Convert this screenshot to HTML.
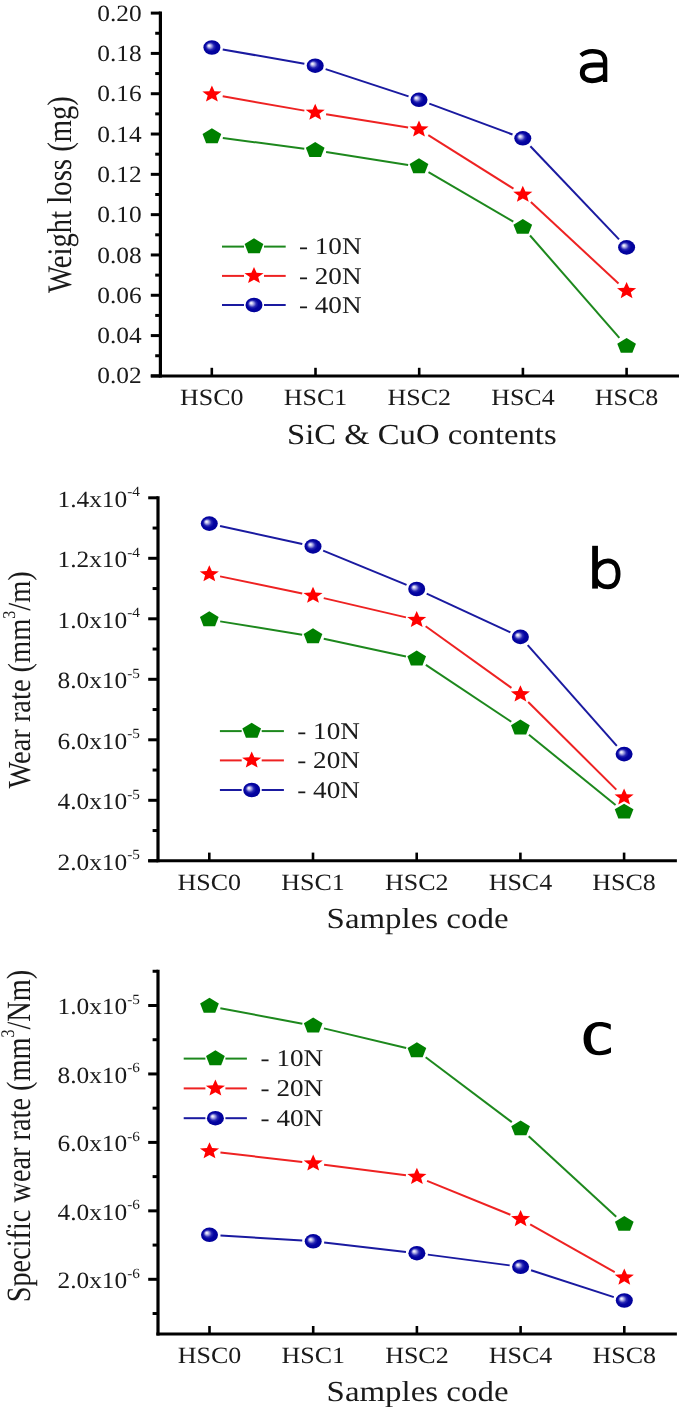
<!DOCTYPE html>
<html><head><meta charset="utf-8"><style>
html,body{margin:0;padding:0;background:#fff;}
svg{display:block;filter:blur(0.35px);}
text{fill:#1a1a1a;text-rendering:geometricPrecision;}
</style></head><body>
<svg width="685" height="1407" viewBox="0 0 685 1407">
<defs>
<radialGradient id="sph" cx="0.5" cy="0.5" r="0.56" fx="0.32" fy="0.36">
<stop offset="0" stop-color="#f6f6ff"/>
<stop offset="0.1" stop-color="#e0e0f6"/>
<stop offset="0.25" stop-color="#9090dc"/>
<stop offset="0.42" stop-color="#2828b4"/>
<stop offset="0.6" stop-color="#0404a2"/>
<stop offset="1" stop-color="#000096"/>
</radialGradient>
</defs>
<rect width="685" height="1407" fill="#fff"/>
<line x1="160.4" y1="11.6" x2="160.4" y2="377.5" stroke="#000" stroke-width="3.2"/>
<line x1="150.8" y1="376.0" x2="679" y2="376.0" stroke="#000" stroke-width="3"/>
<line x1="150.8" y1="13.10" x2="160.4" y2="13.10" stroke="#000" stroke-width="3"/>
<line x1="150.8" y1="53.41" x2="160.4" y2="53.41" stroke="#000" stroke-width="3"/>
<line x1="150.8" y1="93.72" x2="160.4" y2="93.72" stroke="#000" stroke-width="3"/>
<line x1="150.8" y1="134.03" x2="160.4" y2="134.03" stroke="#000" stroke-width="3"/>
<line x1="150.8" y1="174.34" x2="160.4" y2="174.34" stroke="#000" stroke-width="3"/>
<line x1="150.8" y1="214.65" x2="160.4" y2="214.65" stroke="#000" stroke-width="3"/>
<line x1="150.8" y1="254.96" x2="160.4" y2="254.96" stroke="#000" stroke-width="3"/>
<line x1="150.8" y1="295.27" x2="160.4" y2="295.27" stroke="#000" stroke-width="3"/>
<line x1="150.8" y1="335.58" x2="160.4" y2="335.58" stroke="#000" stroke-width="3"/>
<line x1="150.8" y1="375.89" x2="160.4" y2="375.89" stroke="#000" stroke-width="3"/>
<line x1="155.2" y1="33.26" x2="160.4" y2="33.26" stroke="#000" stroke-width="3"/>
<line x1="155.2" y1="73.56" x2="160.4" y2="73.56" stroke="#000" stroke-width="3"/>
<line x1="155.2" y1="113.88" x2="160.4" y2="113.88" stroke="#000" stroke-width="3"/>
<line x1="155.2" y1="154.19" x2="160.4" y2="154.19" stroke="#000" stroke-width="3"/>
<line x1="155.2" y1="194.50" x2="160.4" y2="194.50" stroke="#000" stroke-width="3"/>
<line x1="155.2" y1="234.81" x2="160.4" y2="234.81" stroke="#000" stroke-width="3"/>
<line x1="155.2" y1="275.12" x2="160.4" y2="275.12" stroke="#000" stroke-width="3"/>
<line x1="155.2" y1="315.43" x2="160.4" y2="315.43" stroke="#000" stroke-width="3"/>
<line x1="155.2" y1="355.74" x2="160.4" y2="355.74" stroke="#000" stroke-width="3"/>
<line x1="211.80" y1="367.8" x2="211.80" y2="376.0" stroke="#000" stroke-width="2.6"/>
<line x1="315.50" y1="367.8" x2="315.50" y2="376.0" stroke="#000" stroke-width="2.6"/>
<line x1="419.20" y1="367.8" x2="419.20" y2="376.0" stroke="#000" stroke-width="2.6"/>
<line x1="522.90" y1="367.8" x2="522.90" y2="376.0" stroke="#000" stroke-width="2.6"/>
<line x1="626.60" y1="367.8" x2="626.60" y2="376.0" stroke="#000" stroke-width="2.6"/>
<text transform="translate(141.70,20.70) scale(1.09,1)" font-family="Liberation Serif" font-size="23.3" text-anchor="end" >0.20</text>
<text transform="translate(141.70,61.01) scale(1.09,1)" font-family="Liberation Serif" font-size="23.3" text-anchor="end" >0.18</text>
<text transform="translate(141.70,101.32) scale(1.09,1)" font-family="Liberation Serif" font-size="23.3" text-anchor="end" >0.16</text>
<text transform="translate(141.70,141.63) scale(1.09,1)" font-family="Liberation Serif" font-size="23.3" text-anchor="end" >0.14</text>
<text transform="translate(141.70,181.94) scale(1.09,1)" font-family="Liberation Serif" font-size="23.3" text-anchor="end" >0.12</text>
<text transform="translate(141.70,222.25) scale(1.09,1)" font-family="Liberation Serif" font-size="23.3" text-anchor="end" >0.10</text>
<text transform="translate(141.70,262.56) scale(1.09,1)" font-family="Liberation Serif" font-size="23.3" text-anchor="end" >0.08</text>
<text transform="translate(141.70,302.87) scale(1.09,1)" font-family="Liberation Serif" font-size="23.3" text-anchor="end" >0.06</text>
<text transform="translate(141.70,343.18) scale(1.09,1)" font-family="Liberation Serif" font-size="23.3" text-anchor="end" >0.04</text>
<text transform="translate(141.70,383.49) scale(1.09,1)" font-family="Liberation Serif" font-size="23.3" text-anchor="end" >0.02</text>
<text transform="translate(211.80,404.70) scale(1.115,1)" font-family="Liberation Serif" font-size="23.3" text-anchor="middle" >HSC0</text>
<text transform="translate(315.50,404.70) scale(1.115,1)" font-family="Liberation Serif" font-size="23.3" text-anchor="middle" >HSC1</text>
<text transform="translate(419.20,404.70) scale(1.115,1)" font-family="Liberation Serif" font-size="23.3" text-anchor="middle" >HSC2</text>
<text transform="translate(522.90,404.70) scale(1.115,1)" font-family="Liberation Serif" font-size="23.3" text-anchor="middle" >HSC4</text>
<text transform="translate(626.60,404.70) scale(1.115,1)" font-family="Liberation Serif" font-size="23.3" text-anchor="middle" >HSC8</text>
<text transform="translate(287.00,444.20) scale(1.127,1)" font-family="Liberation Serif" font-size="29.0" text-anchor="start" >SiC &amp; CuO contents</text>
<text transform="translate(71.40,293.00) scale(1.2,1) rotate(-90)" font-family="Liberation Serif" font-size="28.7" text-anchor="start">Weight loss (mg)</text>
<g fill="none" stroke="#000"><path d="M580.9,55.4 C584.5,52.2 588.5,51.2 592.5,51.2 C600.5,51.2 605.1,54.5 605.1,60.5 L605.1,82.1" stroke-width="4.4"/><path d="M605.1,65 L594,65 C586,65 582.3,68 582.3,72.8 C582.3,77.8 586,80.7 592,80.7 C597.5,80.7 602,78.5 605.1,75.5" stroke-width="5.0"/></g>
<line x1="222.73" y1="49.41" x2="304.37" y2="63.79" stroke="#1a1aa0" stroke-width="2.0"/>
<line x1="325.65" y1="69.13" x2="408.55" y2="96.37" stroke="#1a1aa0" stroke-width="2.0"/>
<line x1="429.31" y1="103.63" x2="512.49" y2="134.47" stroke="#1a1aa0" stroke-width="2.0"/>
<line x1="530.38" y1="146.27" x2="619.02" y2="239.43" stroke="#1a1aa0" stroke-width="2.0"/>
<line x1="222.73" y1="96.26" x2="304.37" y2="110.64" stroke="#ee2222" stroke-width="2.0"/>
<line x1="326.06" y1="114.31" x2="408.14" y2="127.59" stroke="#ee2222" stroke-width="2.0"/>
<line x1="428.31" y1="135.20" x2="513.49" y2="188.70" stroke="#ee2222" stroke-width="2.0"/>
<line x1="530.86" y1="202.04" x2="618.54" y2="283.46" stroke="#ee2222" stroke-width="2.0"/>
<line x1="222.80" y1="137.96" x2="304.30" y2="148.84" stroke="#1d881d" stroke-width="2.0"/>
<line x1="326.07" y1="152.01" x2="408.13" y2="164.89" stroke="#1d881d" stroke-width="2.0"/>
<line x1="428.50" y1="172.15" x2="513.30" y2="221.65" stroke="#1d881d" stroke-width="2.0"/>
<line x1="530.03" y1="235.49" x2="619.37" y2="337.91" stroke="#1d881d" stroke-width="2.0"/>
<ellipse cx="211.90" cy="47.50" rx="8.5" ry="7.3" fill="url(#sph)"/>
<ellipse cx="315.20" cy="65.70" rx="8.5" ry="7.3" fill="url(#sph)"/>
<ellipse cx="419.00" cy="99.80" rx="8.5" ry="7.3" fill="url(#sph)"/>
<ellipse cx="522.80" cy="138.30" rx="8.5" ry="7.3" fill="url(#sph)"/>
<ellipse cx="626.60" cy="247.40" rx="8.5" ry="7.3" fill="url(#sph)"/>
<polygon points="211.90,85.45 214.50,91.18 221.46,91.60 216.11,95.56 217.81,101.55 211.90,98.27 205.99,101.55 207.69,95.56 202.34,91.60 209.30,91.18" fill="#ff0000"/>
<polygon points="315.20,103.65 317.80,109.38 324.76,109.80 319.41,113.76 321.11,119.75 315.20,116.47 309.29,119.75 310.99,113.76 305.64,109.80 312.60,109.38" fill="#ff0000"/>
<polygon points="419.00,120.45 421.60,126.18 428.56,126.60 423.21,130.56 424.91,136.55 419.00,133.27 413.09,136.55 414.79,130.56 409.44,126.60 416.40,126.18" fill="#ff0000"/>
<polygon points="522.80,185.65 525.40,191.38 532.36,191.80 527.01,195.76 528.71,201.75 522.80,198.47 516.89,201.75 518.59,195.76 513.24,191.80 520.20,191.38" fill="#ff0000"/>
<polygon points="626.60,282.05 629.20,287.78 636.16,288.20 630.81,292.16 632.51,298.15 626.60,294.87 620.69,298.15 622.39,292.16 617.04,288.20 624.00,287.78" fill="#ff0000"/>
<polygon points="211.90,128.26 221.25,133.95 217.68,143.17 206.12,143.17 202.55,133.95" fill="#008000"/>
<polygon points="315.20,142.06 324.55,147.75 320.98,156.97 309.42,156.97 305.85,147.75" fill="#008000"/>
<polygon points="419.00,158.36 428.35,164.05 424.78,173.27 413.22,173.27 409.65,164.05" fill="#008000"/>
<polygon points="522.80,218.96 532.15,224.65 528.58,233.87 517.02,233.87 513.45,224.65" fill="#008000"/>
<polygon points="626.60,337.96 635.95,343.65 632.38,352.87 620.82,352.87 617.25,343.65" fill="#008000"/>
<line x1="222" y1="246.6" x2="244.0" y2="246.6" stroke="#1d881d" stroke-width="2.0"/>
<line x1="264.0" y1="246.6" x2="285.7" y2="246.6" stroke="#1d881d" stroke-width="2.0"/>
<polygon points="254.00,238.36 263.35,244.05 259.78,253.27 248.22,253.27 244.65,244.05" fill="#008000"/>
<text transform="translate(299.00,254.20) scale(1.13,1)" font-family="Liberation Serif" font-size="24.0" text-anchor="start" >- 10N</text>
<line x1="222" y1="275.9" x2="244.0" y2="275.9" stroke="#ee2222" stroke-width="2.0"/>
<line x1="264.0" y1="275.9" x2="285.7" y2="275.9" stroke="#ee2222" stroke-width="2.0"/>
<polygon points="254.00,267.00 256.60,272.73 263.56,273.15 258.21,277.11 259.91,283.10 254.00,279.82 248.09,283.10 249.79,277.11 244.44,273.15 251.40,272.73" fill="#ff0000"/>
<text transform="translate(299.00,283.50) scale(1.13,1)" font-family="Liberation Serif" font-size="24.0" text-anchor="start" >- 20N</text>
<line x1="222" y1="305.0" x2="244.0" y2="305.0" stroke="#1a1aa0" stroke-width="2.0"/>
<line x1="264.0" y1="305.0" x2="285.7" y2="305.0" stroke="#1a1aa0" stroke-width="2.0"/>
<ellipse cx="254.00" cy="305.00" rx="8.5" ry="7.3" fill="url(#sph)"/>
<text transform="translate(299.00,312.60) scale(1.13,1)" font-family="Liberation Serif" font-size="24.0" text-anchor="start" >- 40N</text>
<line x1="158.0" y1="496.3" x2="158.0" y2="862.3" stroke="#000" stroke-width="3.2"/>
<line x1="148.2" y1="860.8" x2="676.9" y2="860.8" stroke="#000" stroke-width="3"/>
<line x1="148.2" y1="497.80" x2="158.0" y2="497.80" stroke="#000" stroke-width="3"/>
<line x1="148.2" y1="558.30" x2="158.0" y2="558.30" stroke="#000" stroke-width="3"/>
<line x1="148.2" y1="618.80" x2="158.0" y2="618.80" stroke="#000" stroke-width="3"/>
<line x1="148.2" y1="679.30" x2="158.0" y2="679.30" stroke="#000" stroke-width="3"/>
<line x1="148.2" y1="739.80" x2="158.0" y2="739.80" stroke="#000" stroke-width="3"/>
<line x1="148.2" y1="800.30" x2="158.0" y2="800.30" stroke="#000" stroke-width="3"/>
<line x1="148.2" y1="860.80" x2="158.0" y2="860.80" stroke="#000" stroke-width="3"/>
<line x1="152.6" y1="528.05" x2="158.0" y2="528.05" stroke="#000" stroke-width="3"/>
<line x1="152.6" y1="588.55" x2="158.0" y2="588.55" stroke="#000" stroke-width="3"/>
<line x1="152.6" y1="649.05" x2="158.0" y2="649.05" stroke="#000" stroke-width="3"/>
<line x1="152.6" y1="709.55" x2="158.0" y2="709.55" stroke="#000" stroke-width="3"/>
<line x1="152.6" y1="770.05" x2="158.0" y2="770.05" stroke="#000" stroke-width="3"/>
<line x1="152.6" y1="830.55" x2="158.0" y2="830.55" stroke="#000" stroke-width="3"/>
<line x1="209.30" y1="852.6" x2="209.30" y2="860.8" stroke="#000" stroke-width="2.6"/>
<line x1="313.00" y1="852.6" x2="313.00" y2="860.8" stroke="#000" stroke-width="2.6"/>
<line x1="416.70" y1="852.6" x2="416.70" y2="860.8" stroke="#000" stroke-width="2.6"/>
<line x1="520.40" y1="852.6" x2="520.40" y2="860.8" stroke="#000" stroke-width="2.6"/>
<line x1="624.10" y1="852.6" x2="624.10" y2="860.8" stroke="#000" stroke-width="2.6"/>
<text transform="translate(140.00,506.50) scale(1.09,1)" font-family="Liberation Serif" font-size="23.3" text-anchor="end">1.4x10<tspan font-size="14" dy="-10.2">-4</tspan></text>
<text transform="translate(140.00,567.00) scale(1.09,1)" font-family="Liberation Serif" font-size="23.3" text-anchor="end">1.2x10<tspan font-size="14" dy="-10.2">-4</tspan></text>
<text transform="translate(140.00,627.50) scale(1.09,1)" font-family="Liberation Serif" font-size="23.3" text-anchor="end">1.0x10<tspan font-size="14" dy="-10.2">-4</tspan></text>
<text transform="translate(140.00,688.00) scale(1.09,1)" font-family="Liberation Serif" font-size="23.3" text-anchor="end">8.0x10<tspan font-size="14" dy="-10.2">-5</tspan></text>
<text transform="translate(140.00,748.50) scale(1.09,1)" font-family="Liberation Serif" font-size="23.3" text-anchor="end">6.0x10<tspan font-size="14" dy="-10.2">-5</tspan></text>
<text transform="translate(140.00,809.00) scale(1.09,1)" font-family="Liberation Serif" font-size="23.3" text-anchor="end">4.0x10<tspan font-size="14" dy="-10.2">-5</tspan></text>
<text transform="translate(140.00,869.50) scale(1.09,1)" font-family="Liberation Serif" font-size="23.3" text-anchor="end">2.0x10<tspan font-size="14" dy="-10.2">-5</tspan></text>
<text transform="translate(209.30,889.60) scale(1.115,1)" font-family="Liberation Serif" font-size="23.3" text-anchor="middle" >HSC0</text>
<text transform="translate(313.00,889.60) scale(1.115,1)" font-family="Liberation Serif" font-size="23.3" text-anchor="middle" >HSC1</text>
<text transform="translate(416.70,889.60) scale(1.115,1)" font-family="Liberation Serif" font-size="23.3" text-anchor="middle" >HSC2</text>
<text transform="translate(520.40,889.60) scale(1.115,1)" font-family="Liberation Serif" font-size="23.3" text-anchor="middle" >HSC4</text>
<text transform="translate(624.10,889.60) scale(1.115,1)" font-family="Liberation Serif" font-size="23.3" text-anchor="middle" >HSC8</text>
<text transform="translate(326.60,927.80) scale(1.135,1)" font-family="Liberation Serif" font-size="29.0" text-anchor="start" >Samples code</text>
<text transform="translate(30.20,788.50) scale(1.13,1) rotate(-90)" font-family="Liberation Serif" font-size="28.45" text-anchor="start">Wear rate (mm<tspan font-size="16" dy="-13.5">3</tspan><tspan dy="13.5">/m)</tspan></text>
<g fill="none" stroke="#000"><path d="M595.05,545.8 L595.05,588.6" stroke-width="5.8"/><path d="M595.5,570 C598,564 602.5,560.9 608,560.9 C614.5,560.9 618.1,566 618.1,574 C618.1,582 614,586.9 608,586.9 C602.5,586.9 598,584 595.5,579" stroke-width="4.8"/></g>
<line x1="220.04" y1="525.96" x2="302.26" y2="544.04" stroke="#1a1aa0" stroke-width="2.0"/>
<line x1="323.17" y1="550.58" x2="406.53" y2="584.82" stroke="#1a1aa0" stroke-width="2.0"/>
<line x1="426.69" y1="593.61" x2="510.41" y2="632.29" stroke="#1a1aa0" stroke-width="2.0"/>
<line x1="527.69" y1="645.14" x2="616.81" y2="745.86" stroke="#1a1aa0" stroke-width="2.0"/>
<line x1="220.07" y1="576.38" x2="302.23" y2="593.42" stroke="#ee2222" stroke-width="2.0"/>
<line x1="323.71" y1="598.15" x2="405.99" y2="617.35" stroke="#ee2222" stroke-width="2.0"/>
<line x1="425.64" y1="626.26" x2="511.46" y2="687.84" stroke="#ee2222" stroke-width="2.0"/>
<line x1="528.20" y1="702.01" x2="616.30" y2="789.59" stroke="#ee2222" stroke-width="2.0"/>
<line x1="220.16" y1="621.37" x2="302.14" y2="634.73" stroke="#1d881d" stroke-width="2.0"/>
<line x1="323.75" y1="638.81" x2="405.95" y2="656.49" stroke="#1d881d" stroke-width="2.0"/>
<line x1="425.86" y1="664.89" x2="511.24" y2="721.71" stroke="#1d881d" stroke-width="2.0"/>
<line x1="528.94" y1="734.73" x2="615.56" y2="804.97" stroke="#1d881d" stroke-width="2.0"/>
<ellipse cx="209.30" cy="523.60" rx="8.5" ry="7.3" fill="url(#sph)"/>
<ellipse cx="313.00" cy="546.40" rx="8.5" ry="7.3" fill="url(#sph)"/>
<ellipse cx="416.70" cy="589.00" rx="8.5" ry="7.3" fill="url(#sph)"/>
<ellipse cx="520.40" cy="636.90" rx="8.5" ry="7.3" fill="url(#sph)"/>
<ellipse cx="624.10" cy="754.10" rx="8.5" ry="7.3" fill="url(#sph)"/>
<polygon points="209.30,565.25 211.90,570.98 218.86,571.40 213.51,575.36 215.21,581.35 209.30,578.07 203.39,581.35 205.09,575.36 199.74,571.40 206.70,570.98" fill="#ff0000"/>
<polygon points="313.00,586.75 315.60,592.48 322.56,592.90 317.21,596.86 318.91,602.85 313.00,599.57 307.09,602.85 308.79,596.86 303.44,592.90 310.40,592.48" fill="#ff0000"/>
<polygon points="416.70,610.95 419.30,616.68 426.26,617.10 420.91,621.06 422.61,627.05 416.70,623.77 410.79,627.05 412.49,621.06 407.14,617.10 414.10,616.68" fill="#ff0000"/>
<polygon points="520.40,685.35 523.00,691.08 529.96,691.50 524.61,695.46 526.31,701.45 520.40,698.17 514.49,701.45 516.19,695.46 510.84,691.50 517.80,691.08" fill="#ff0000"/>
<polygon points="624.10,788.45 626.70,794.18 633.66,794.60 628.31,798.56 630.01,804.55 624.10,801.27 618.19,804.55 619.89,798.56 614.54,794.60 621.50,794.18" fill="#ff0000"/>
<polygon points="209.30,611.36 218.65,617.05 215.08,626.27 203.52,626.27 199.95,617.05" fill="#008000"/>
<polygon points="313.00,628.26 322.35,633.95 318.78,643.17 307.22,643.17 303.65,633.95" fill="#008000"/>
<polygon points="416.70,650.56 426.05,656.25 422.48,665.47 410.92,665.47 407.35,656.25" fill="#008000"/>
<polygon points="520.40,719.56 529.75,725.25 526.18,734.47 514.62,734.47 511.05,725.25" fill="#008000"/>
<polygon points="624.10,803.66 633.45,809.35 629.88,818.57 618.32,818.57 614.75,809.35" fill="#008000"/>
<line x1="219.9" y1="731.1" x2="241.7" y2="731.1" stroke="#1d881d" stroke-width="2.0"/>
<line x1="261.7" y1="731.1" x2="283.9" y2="731.1" stroke="#1d881d" stroke-width="2.0"/>
<polygon points="251.70,722.86 261.05,728.55 257.48,737.77 245.92,737.77 242.35,728.55" fill="#008000"/>
<text transform="translate(297.30,738.70) scale(1.13,1)" font-family="Liberation Serif" font-size="24.0" text-anchor="start" >- 10N</text>
<line x1="219.9" y1="760.4" x2="241.7" y2="760.4" stroke="#ee2222" stroke-width="2.0"/>
<line x1="261.7" y1="760.4" x2="283.9" y2="760.4" stroke="#ee2222" stroke-width="2.0"/>
<polygon points="251.70,751.50 254.30,757.23 261.26,757.65 255.91,761.61 257.61,767.60 251.70,764.32 245.79,767.60 247.49,761.61 242.14,757.65 249.10,757.23" fill="#ff0000"/>
<text transform="translate(297.30,768.00) scale(1.13,1)" font-family="Liberation Serif" font-size="24.0" text-anchor="start" >- 20N</text>
<line x1="219.9" y1="790.0" x2="241.7" y2="790.0" stroke="#1a1aa0" stroke-width="2.0"/>
<line x1="261.7" y1="790.0" x2="283.9" y2="790.0" stroke="#1a1aa0" stroke-width="2.0"/>
<ellipse cx="251.70" cy="790.00" rx="8.5" ry="7.3" fill="url(#sph)"/>
<text transform="translate(297.30,797.60) scale(1.13,1)" font-family="Liberation Serif" font-size="24.0" text-anchor="start" >- 40N</text>
<line x1="158.0" y1="969.8" x2="158.0" y2="1335.4" stroke="#000" stroke-width="3.2"/>
<line x1="156.4" y1="1333.9" x2="676.9" y2="1333.9" stroke="#000" stroke-width="3"/>
<line x1="148.2" y1="1005.50" x2="158.0" y2="1005.50" stroke="#000" stroke-width="3"/>
<line x1="148.2" y1="1073.95" x2="158.0" y2="1073.95" stroke="#000" stroke-width="3"/>
<line x1="148.2" y1="1142.40" x2="158.0" y2="1142.40" stroke="#000" stroke-width="3"/>
<line x1="148.2" y1="1210.85" x2="158.0" y2="1210.85" stroke="#000" stroke-width="3"/>
<line x1="148.2" y1="1279.30" x2="158.0" y2="1279.30" stroke="#000" stroke-width="3"/>
<line x1="152.6" y1="971.27" x2="158.0" y2="971.27" stroke="#000" stroke-width="3"/>
<line x1="152.6" y1="1039.72" x2="158.0" y2="1039.72" stroke="#000" stroke-width="3"/>
<line x1="152.6" y1="1108.17" x2="158.0" y2="1108.17" stroke="#000" stroke-width="3"/>
<line x1="152.6" y1="1176.62" x2="158.0" y2="1176.62" stroke="#000" stroke-width="3"/>
<line x1="152.6" y1="1245.08" x2="158.0" y2="1245.08" stroke="#000" stroke-width="3"/>
<line x1="152.6" y1="1313.53" x2="158.0" y2="1313.53" stroke="#000" stroke-width="3"/>
<line x1="209.50" y1="1326" x2="209.50" y2="1333.9" stroke="#000" stroke-width="2.6"/>
<line x1="313.20" y1="1326" x2="313.20" y2="1333.9" stroke="#000" stroke-width="2.6"/>
<line x1="416.90" y1="1326" x2="416.90" y2="1333.9" stroke="#000" stroke-width="2.6"/>
<line x1="520.60" y1="1326" x2="520.60" y2="1333.9" stroke="#000" stroke-width="2.6"/>
<line x1="624.30" y1="1326" x2="624.30" y2="1333.9" stroke="#000" stroke-width="2.6"/>
<text transform="translate(140.00,1014.20) scale(1.09,1)" font-family="Liberation Serif" font-size="23.3" text-anchor="end">1.0x10<tspan font-size="14" dy="-10.2">-5</tspan></text>
<text transform="translate(140.00,1082.65) scale(1.09,1)" font-family="Liberation Serif" font-size="23.3" text-anchor="end">8.0x10<tspan font-size="14" dy="-10.2">-6</tspan></text>
<text transform="translate(140.00,1151.10) scale(1.09,1)" font-family="Liberation Serif" font-size="23.3" text-anchor="end">6.0x10<tspan font-size="14" dy="-10.2">-6</tspan></text>
<text transform="translate(140.00,1219.55) scale(1.09,1)" font-family="Liberation Serif" font-size="23.3" text-anchor="end">4.0x10<tspan font-size="14" dy="-10.2">-6</tspan></text>
<text transform="translate(140.00,1288.00) scale(1.09,1)" font-family="Liberation Serif" font-size="23.3" text-anchor="end">2.0x10<tspan font-size="14" dy="-10.2">-6</tspan></text>
<text transform="translate(209.50,1362.50) scale(1.115,1)" font-family="Liberation Serif" font-size="23.3" text-anchor="middle" >HSC0</text>
<text transform="translate(313.20,1362.50) scale(1.115,1)" font-family="Liberation Serif" font-size="23.3" text-anchor="middle" >HSC1</text>
<text transform="translate(416.90,1362.50) scale(1.115,1)" font-family="Liberation Serif" font-size="23.3" text-anchor="middle" >HSC2</text>
<text transform="translate(520.60,1362.50) scale(1.115,1)" font-family="Liberation Serif" font-size="23.3" text-anchor="middle" >HSC4</text>
<text transform="translate(624.30,1362.50) scale(1.115,1)" font-family="Liberation Serif" font-size="23.3" text-anchor="middle" >HSC8</text>
<text transform="translate(326.60,1401.00) scale(1.135,1)" font-family="Liberation Serif" font-size="29.0" text-anchor="start" >Samples code</text>
<text transform="translate(29.90,1302.30) scale(1.2,1) rotate(-90)" font-family="Liberation Serif" font-size="28.3" text-anchor="start">Specific wear rate (mm<tspan font-size="16" dy="-13.5">3</tspan><tspan dy="13.5">/Nm)</tspan></text>
<path fill="#000" d="M609.34,1023.66 C606.84,1022.55 602.96,1021.99 599.35,1021.99 C589.65,1021.99 583.55,1028.65 583.55,1038.64 C583.55,1049.19 589.65,1055.29 599.35,1055.29 C604.07,1055.29 607.95,1054.18 611.0,1052.52 L611.0,1047.24 C607.4,1049.46 603.51,1051.13 599.35,1051.13 C593.81,1051.13 590.76,1046.41 590.76,1038.64 C590.76,1030.87 594.08,1026.16 599.35,1026.16 C603.51,1026.16 607.4,1027.54 610.72,1029.76 L610.83,1024.49 Z"/>
<line x1="220.48" y1="1235.49" x2="302.22" y2="1240.61" stroke="#1a1aa0" stroke-width="2.0"/>
<line x1="324.13" y1="1242.55" x2="405.97" y2="1251.95" stroke="#1a1aa0" stroke-width="2.0"/>
<line x1="427.81" y1="1254.63" x2="509.69" y2="1265.37" stroke="#1a1aa0" stroke-width="2.0"/>
<line x1="531.06" y1="1270.20" x2="613.84" y2="1297.10" stroke="#1a1aa0" stroke-width="2.0"/>
<line x1="220.42" y1="1152.44" x2="302.28" y2="1162.06" stroke="#ee2222" stroke-width="2.0"/>
<line x1="324.11" y1="1164.76" x2="405.99" y2="1175.34" stroke="#ee2222" stroke-width="2.0"/>
<line x1="427.09" y1="1180.90" x2="510.41" y2="1214.80" stroke="#ee2222" stroke-width="2.0"/>
<line x1="530.18" y1="1224.35" x2="614.72" y2="1272.05" stroke="#ee2222" stroke-width="2.0"/>
<line x1="220.31" y1="1008.15" x2="302.39" y2="1023.75" stroke="#1d881d" stroke-width="2.0"/>
<line x1="323.90" y1="1028.36" x2="406.20" y2="1048.04" stroke="#1d881d" stroke-width="2.0"/>
<line x1="425.69" y1="1057.22" x2="511.81" y2="1122.08" stroke="#1d881d" stroke-width="2.0"/>
<line x1="528.69" y1="1136.15" x2="616.21" y2="1216.75" stroke="#1d881d" stroke-width="2.0"/>
<ellipse cx="209.50" cy="1234.80" rx="8.5" ry="7.3" fill="url(#sph)"/>
<ellipse cx="313.20" cy="1241.30" rx="8.5" ry="7.3" fill="url(#sph)"/>
<ellipse cx="416.90" cy="1253.20" rx="8.5" ry="7.3" fill="url(#sph)"/>
<ellipse cx="520.60" cy="1266.80" rx="8.5" ry="7.3" fill="url(#sph)"/>
<ellipse cx="624.30" cy="1300.50" rx="8.5" ry="7.3" fill="url(#sph)"/>
<polygon points="209.50,1142.25 212.10,1147.98 219.06,1148.40 213.71,1152.36 215.41,1158.35 209.50,1155.07 203.59,1158.35 205.29,1152.36 199.94,1148.40 206.90,1147.98" fill="#ff0000"/>
<polygon points="313.20,1154.45 315.80,1160.18 322.76,1160.60 317.41,1164.56 319.11,1170.55 313.20,1167.27 307.29,1170.55 308.99,1164.56 303.64,1160.60 310.60,1160.18" fill="#ff0000"/>
<polygon points="416.90,1167.85 419.50,1173.58 426.46,1174.00 421.11,1177.96 422.81,1183.95 416.90,1180.67 410.99,1183.95 412.69,1177.96 407.34,1174.00 414.30,1173.58" fill="#ff0000"/>
<polygon points="520.60,1210.05 523.20,1215.78 530.16,1216.20 524.81,1220.16 526.51,1226.15 520.60,1222.87 514.69,1226.15 516.39,1220.16 511.04,1216.20 518.00,1215.78" fill="#ff0000"/>
<polygon points="624.30,1268.55 626.90,1274.28 633.86,1274.70 628.51,1278.66 630.21,1284.65 624.30,1281.37 618.39,1284.65 620.09,1278.66 614.74,1274.70 621.70,1274.28" fill="#ff0000"/>
<polygon points="209.50,997.86 218.85,1003.55 215.28,1012.77 203.72,1012.77 200.15,1003.55" fill="#008000"/>
<polygon points="313.20,1017.56 322.55,1023.25 318.98,1032.47 307.42,1032.47 303.85,1023.25" fill="#008000"/>
<polygon points="416.90,1042.36 426.25,1048.05 422.68,1057.27 411.12,1057.27 407.55,1048.05" fill="#008000"/>
<polygon points="520.60,1120.46 529.95,1126.15 526.38,1135.37 514.82,1135.37 511.25,1126.15" fill="#008000"/>
<polygon points="624.30,1215.96 633.65,1221.65 630.08,1230.87 618.52,1230.87 614.95,1221.65" fill="#008000"/>
<line x1="183.7" y1="1058.6" x2="205.4" y2="1058.6" stroke="#1d881d" stroke-width="2.0"/>
<line x1="225.4" y1="1058.6" x2="246.9" y2="1058.6" stroke="#1d881d" stroke-width="2.0"/>
<polygon points="215.40,1050.36 224.75,1056.05 221.18,1065.27 209.62,1065.27 206.05,1056.05" fill="#008000"/>
<text transform="translate(260.60,1066.20) scale(1.13,1)" font-family="Liberation Serif" font-size="24.0" text-anchor="start" >- 10N</text>
<line x1="183.7" y1="1088.4" x2="205.4" y2="1088.4" stroke="#ee2222" stroke-width="2.0"/>
<line x1="225.4" y1="1088.4" x2="246.9" y2="1088.4" stroke="#ee2222" stroke-width="2.0"/>
<polygon points="215.40,1079.50 218.00,1085.23 224.96,1085.65 219.61,1089.61 221.31,1095.60 215.40,1092.32 209.49,1095.60 211.19,1089.61 205.84,1085.65 212.80,1085.23" fill="#ff0000"/>
<text transform="translate(260.60,1096.00) scale(1.13,1)" font-family="Liberation Serif" font-size="24.0" text-anchor="start" >- 20N</text>
<line x1="183.7" y1="1118.2" x2="205.4" y2="1118.2" stroke="#1a1aa0" stroke-width="2.0"/>
<line x1="225.4" y1="1118.2" x2="246.9" y2="1118.2" stroke="#1a1aa0" stroke-width="2.0"/>
<ellipse cx="215.40" cy="1118.20" rx="8.5" ry="7.3" fill="url(#sph)"/>
<text transform="translate(260.60,1125.80) scale(1.13,1)" font-family="Liberation Serif" font-size="24.0" text-anchor="start" >- 40N</text>
</svg>
</body></html>
